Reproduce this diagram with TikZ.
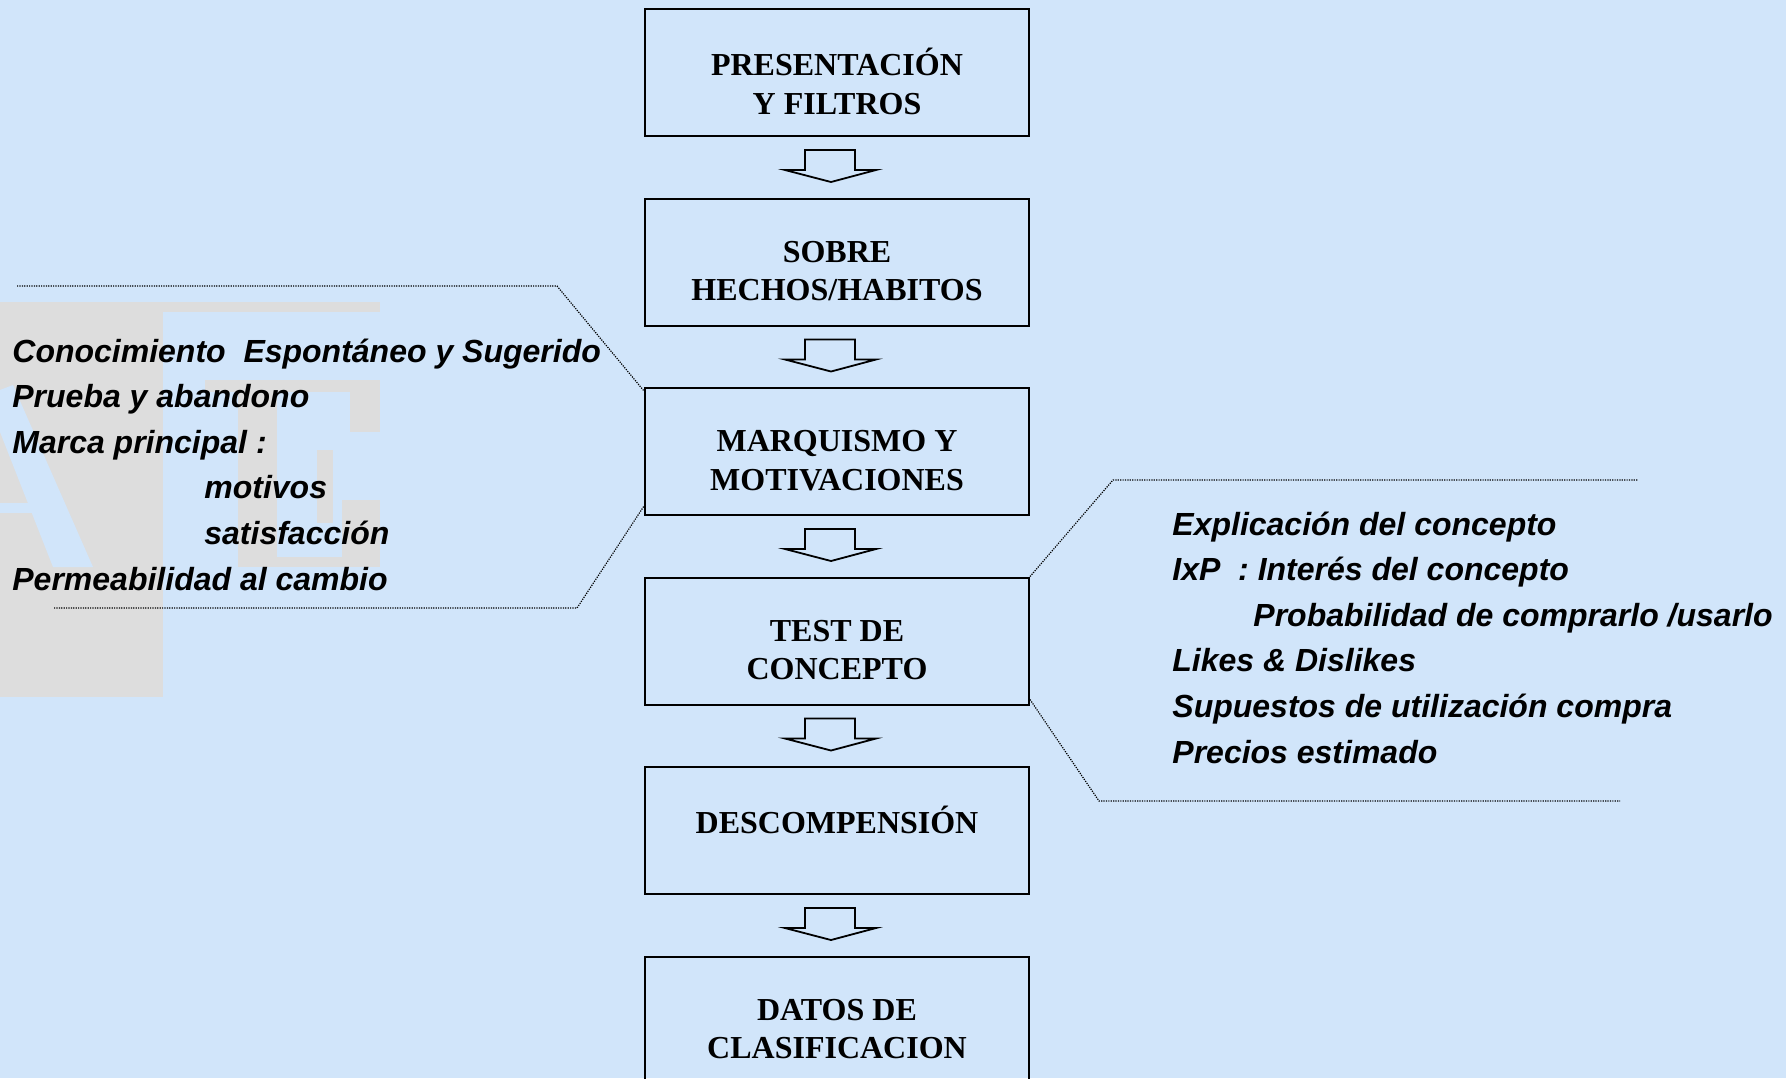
\documentclass[tikz,border=0pt]{standalone}
\usepackage{fontspec}
\setmainfont{Liberation Serif}
\setsansfont{Liberation Sans}
\usetikzlibrary{positioning}
\definecolor{fondo}{RGB}{209,229,250}
\definecolor{logo}{RGB}{221,221,221}

\tikzset{
  caja/.style={draw, line width=1pt, minimum width=192pt, minimum height=63.5pt, inner sep=0pt},
  titulo/.style={align=center, font=\fontsize{16}{19.3}\selectfont\bfseries, yshift=-4.5pt},
  flecha/.style={draw, line width=0.9pt, line join=miter},
  lista/.style={align=left, font=\fontsize{16}{22.8}\selectfont\sffamily\bfseries\itshape, inner sep=0pt},
  guia/.style={line width=0.6pt, dash pattern=on 0.6pt off 0.6pt},
}
\newcommand{\flecha}[1]{\draw[flecha, shift={(#1.south)}] (-32,13) -- (18,13) -- (18,33) -- (39,33) -- (-6,45) -- (-52,33) -- (-32,33) -- cycle;}

\begin{document}
\begin{tikzpicture}[x=0.5pt,y=-0.5pt,node distance=94.75pt]
    \useasboundingbox (0,0) rectangle (1786,1078);
    \fill[fondo] (0,0) rectangle (1786,1078);
    % logo de fondo
    \fill[logo] (0,302) rectangle (380,312);
    \fill[logo] (0,312) rectangle (163,697);
    \fill[fondo] (0,390) -- (13,385) -- (93,567) -- (53,567) -- (0,432) -- cycle;
    \fill[fondo] (0,503) rectangle (33,513);
    \fill[logo] (205,380) rectangle (380,392);
    \fill[logo] (238,392) rectangle (277,567);
    \fill[logo] (350,392) rectangle (380,432);
    \fill[logo] (317,450) rectangle (333,523);
    \fill[logo] (342,500) rectangle (380,567);
    \fill[logo] (238,557) rectangle (380,567);

    \node[caja, label={[titulo]center:PRESENTACIÓN\\Y FILTROS}] (pres) at (837,72.5) {};
    \node[caja, label={[titulo]center:SOBRE\\HECHOS/HABITOS}] (hechos) [below of = pres] {};
    \node[caja, label={[titulo]center:MARQUISMO Y\\MOTIVACIONES}] (marq) [below of = hechos] {};
    \node[caja, label={[titulo]center:TEST DE\\CONCEPTO}] (test) [below of = marq] {};
    \node[caja, label={[titulo]center:DESCOMPENSIÓN\\{}}] (desc) [below of = test] {};
    \node[caja, label={[titulo]center:DATOS DE\\CLASIFICACION}] (datos) [below of = desc] {};

    \flecha{pres}
    \flecha{hechos}
    \flecha{marq}
    \flecha{test}
    \flecha{desc}

    \node[lista, anchor=base west] (izq) at (12,590) {Conocimiento\ \ Espontáneo y Sugerido\\Prueba y abandono\\Marca principal :\\\hspace*{96pt}motivos\\\hspace*{96pt}satisfacción\\Permeabilidad al cambio};
    \node[lista, anchor=base west] (der) at (1172,763) {Explicación del concepto\\IxP\ \ : Interés del concepto\\\hspace*{40.5pt}Probabilidad de comprarlo /usarlo\\Likes \& Dislikes\\Supuestos de utilización compra\\Precios estimado};

    \coordinate (izqA) at (17,286);
    \coordinate (izqB) at (557,286);
    \coordinate (izqC) at (54,608);
    \coordinate (izqD) at (577,608);
    \coordinate (derA) at (1638,480);
    \coordinate (derB) at (1113,480);
    \coordinate (derC) at (1099,801);
    \coordinate (derD) at (1620,801);
    \draw[guia] (izqA) -- (izqB) -- ([yshift=-2pt]marq.north west);
    \draw[guia] (izqC) -- (izqD) -- ([yshift=5pt]marq.south west);
    \draw[guia] (test.north east) -- (derB) -- (derA);
    \draw[guia] ([yshift=3pt]test.south east) -- (derC) -- (derD);
\end{tikzpicture}
\end{document}
